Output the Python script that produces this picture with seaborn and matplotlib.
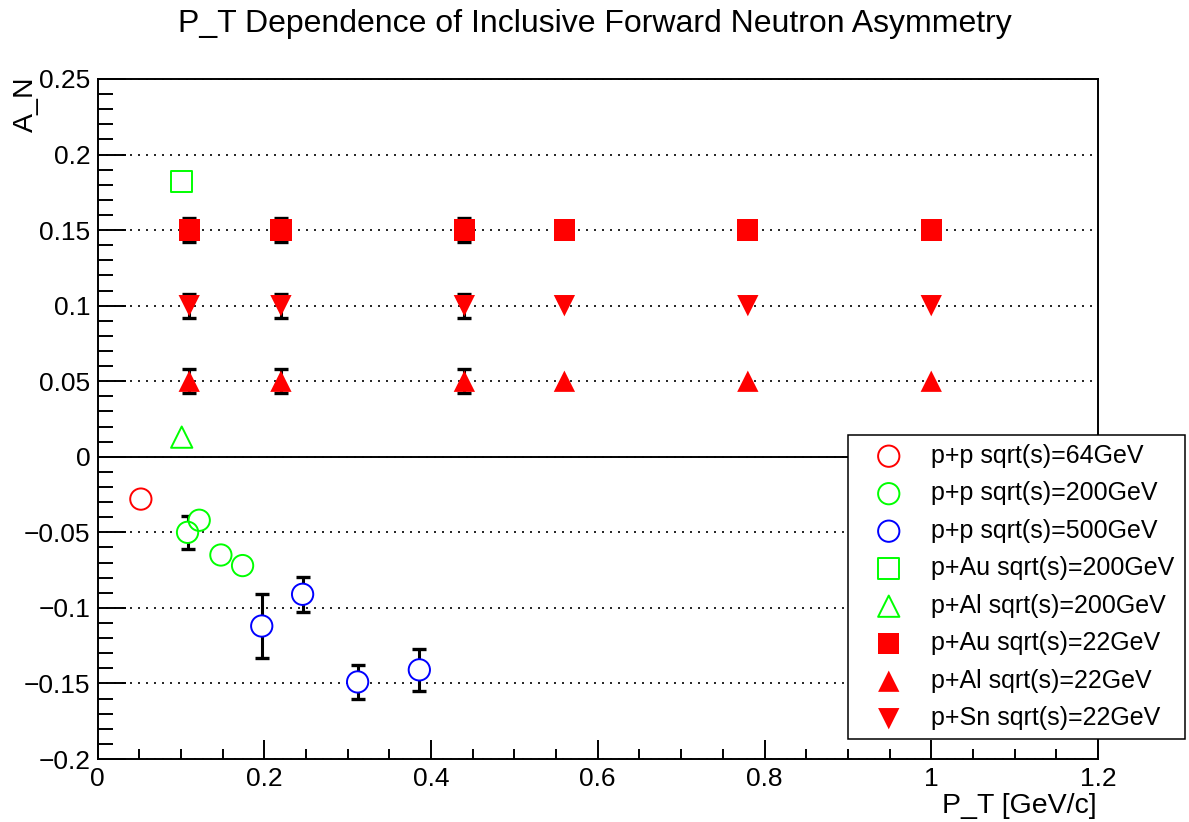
import numpy as np
import pandas as pd
import matplotlib
matplotlib.use("Agg")
import matplotlib.pyplot as plt
import seaborn as sns
from matplotlib.ticker import MultipleLocator, FuncFormatter

# ---------------- data ----------------
pp64_pt = [0.052]
pp64_an = [-0.028]

pp200_pt = [0.108, 0.122, 0.148, 0.174]
pp200_an = [-0.050, -0.042, -0.065, -0.072]
pp200_err = [0.011, 0.0, 0.0, 0.0]

pp500_pt = [0.197, 0.246, 0.312, 0.386]
pp500_an = [-0.112, -0.091, -0.149, -0.141]
pp500_err = [0.021, 0.0115, 0.0115, 0.014]

pAu200_pt = [0.101]
pAu200_an = [0.182]

pAl200_pt = [0.101]
pAl200_an = [0.013]

pt22 = [0.11, 0.22, 0.44, 0.56, 0.78, 1.0]
pAu22_an = [0.15, 0.15, 0.15, 0.15, 0.15, 0.15]
pAl22_an = [0.05, 0.05, 0.05, 0.05, 0.05, 0.05]
pSn22_an = [0.10, 0.10, 0.10, 0.10, 0.10, 0.10]
err22 = [0.008, 0.008, 0.008, 0.0, 0.0, 0.0]

labels = ["p+p sqrt(s)=64GeV", "p+p sqrt(s)=200GeV", "p+p sqrt(s)=500GeV",
          "p+Au sqrt(s)=200GeV", "p+Al sqrt(s)=200GeV", "p+Au sqrt(s)=22GeV",
          "p+Al sqrt(s)=22GeV", "p+Sn sqrt(s)=22GeV"]

title = "P_T Dependence of Inclusive Forward Neutron Asymmetry"
xlabel = "P_T [GeV/c]"
ylabel = "A_N"

# ---------------- style ----------------
sns.set_style("ticks")
plt.rcParams["font.family"] = ["Liberation Sans", "DejaVu Sans"]
plt.rcParams["axes.unicode_minus"] = True
plt.rcParams["text.color"] = "black"
plt.rcParams["axes.labelcolor"] = "black"
plt.rcParams["xtick.color"] = "black"
plt.rcParams["ytick.color"] = "black"

W, H, DPI = 1189, 822, 100
fig = plt.figure(figsize=(W / DPI, H / DPI), dpi=DPI)
ax = fig.add_axes([97.5 / W, 1 - 759 / H, (1098 - 97.5) / W, (759 - 79) / H])

RED, GREEN, BLUE = "#ff0000", "#00ff00", "#0000ff"
S = 235  # marker area (pt^2)

# error bars
def draw_err(x, y, e):
    x = np.asarray(x); y = np.asarray(y); e = np.asarray(e)
    m = e > 0
    if m.any():
        ax.errorbar(x[m], y[m], yerr=e[m], fmt="none", ecolor="black",
                    elinewidth=2.2, capsize=5, capthick=2.4, zorder=2)

draw_err(pp200_pt, pp200_an, pp200_err)
draw_err(pp500_pt, pp500_an, pp500_err)
draw_err(pt22, pAu22_an, err22)
draw_err(pt22, pAl22_an, err22)
draw_err(pt22, pSn22_an, err22)

handles = []

def open_series(x, y, marker, color, label):
    df = pd.DataFrame({"pt": x, "an": y})
    # white backing so error bars do not show through the hollow marker
    sns.scatterplot(data=df, x="pt", y="an", ax=ax, marker=marker, s=S,
                    color="white", facecolor="white", edgecolor="none",
                    linewidth=0, zorder=3, legend=False)
    sns.scatterplot(data=df, x="pt", y="an", ax=ax, marker=marker, s=S,
                    color=color, facecolor="none", edgecolor=color,
                    linewidth=1.4, zorder=4, legend=False)
    h = ax.collections[-1]
    h.set_label(label)
    handles.append(h)

def filled_series(x, y, marker, color, label):
    df = pd.DataFrame({"pt": x, "an": y})
    sns.scatterplot(data=df, x="pt", y="an", ax=ax, marker=marker, s=S,
                    color=color, edgecolor="none", linewidth=0, zorder=4,
                    legend=False)
    h = ax.collections[-1]
    h.set_label(label)
    handles.append(h)

open_series(pp64_pt, pp64_an, "o", RED, labels[0])
open_series(pp200_pt, pp200_an, "o", GREEN, labels[1])
open_series(pp500_pt, pp500_an, "o", BLUE, labels[2])
open_series(pAu200_pt, pAu200_an, "s", GREEN, labels[3])
open_series(pAl200_pt, pAl200_an, "^", GREEN, labels[4])
filled_series(pt22, pAu22_an, "s", RED, labels[5])
filled_series(pt22, pAl22_an, "^", RED, labels[6])
filled_series(pt22, pSn22_an, "v", RED, labels[7])

# axes
ax.set_xlim(0, 1.2)
ax.set_ylim(-0.2, 0.25)
ax.set_xlabel("")
ax.set_ylabel("")
ax.xaxis.set_major_locator(MultipleLocator(0.2))
ax.xaxis.set_minor_locator(MultipleLocator(0.05))
ax.yaxis.set_major_locator(MultipleLocator(0.05))
ax.yaxis.set_minor_locator(MultipleLocator(0.01))

def fmt(v, pos):
    s = "%g" % round(v, 4)
    if s == "-0":
        s = "0"
    return s.replace("-", "\u2212")

ax.xaxis.set_major_formatter(FuncFormatter(fmt))
ax.yaxis.set_major_formatter(FuncFormatter(fmt))

ax.tick_params(axis="both", which="both", direction="in", top=False, right=False,
               width=1.4, color="black", labelsize=19, labelcolor="black")
ax.tick_params(axis="y", which="major", length=20, pad=5)
ax.tick_params(axis="y", which="minor", length=11)
ax.tick_params(axis="x", which="major", length=14, pad=6)
ax.tick_params(axis="x", which="minor", length=7)

for sp in ax.spines.values():
    sp.set_visible(True)
    sp.set_linewidth(1.4)
    sp.set_color("black")

ax.yaxis.grid(True, which="major", color="black", linestyle=(0, (1.2, 3.6)),
              linewidth=1.2, zorder=1)
ax.xaxis.grid(False)
ax.set_axisbelow(True)
ax.axhline(0, color="black", linewidth=1.4, zorder=1.5)

# texts
fig.text(0.5, 1 - 24 / H, title, ha="center", va="center", fontsize=23, color="black")
fig.text(26 / W, 1 - 76 / H, ylabel, rotation=90, ha="center", va="top",
         fontsize=20.5, color="black")
fig.text(1097 / W, 1 - 793 / H, xlabel, ha="right", va="top", fontsize=20.5,
         color="black")

# legend
leg = ax.legend(handles=handles, loc="upper left",
                bbox_to_anchor=(848 / W, 1 - 435 / H, (1185 - 848) / W, 0),
                bbox_transform=fig.transFigure, mode="expand", borderaxespad=0,
                fontsize=18, labelspacing=0.54, handlelength=2.56,
                handletextpad=0.4, borderpad=0.35, scatterpoints=1,
                frameon=True, fancybox=False, framealpha=1, edgecolor="black",
                labelcolor="black")
leg.get_frame().set_linewidth(1.1)
leg.set_zorder(10)

fig.savefig("out.png", dpi=DPI)
